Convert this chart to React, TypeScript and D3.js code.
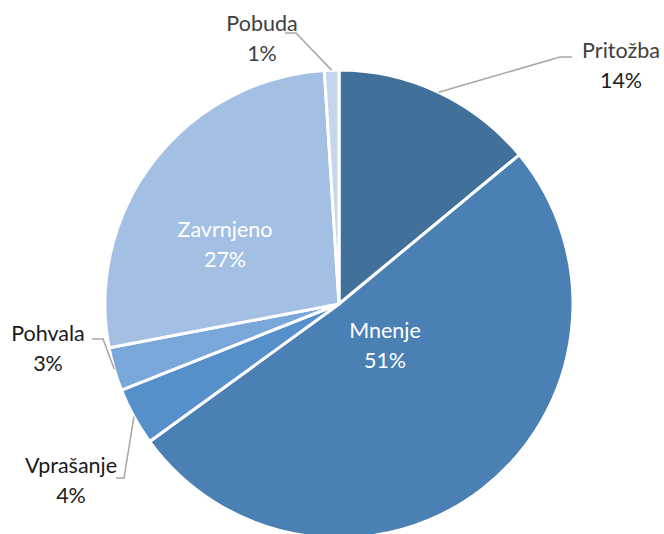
import React, { useEffect, useRef } from "react";
import * as d3 from "d3";

const categories = ["Pritožba", "Mnenje", "Vprašanje", "Pohvala", "Zavrnjeno", "Pobuda"];
const values = [14, 51, 4, 3, 27, 1];
const percentLabels = ["14%", "51%", "4%", "3%", "27%", "1%"];
const colors = ["#41709b", "#4a80b4", "#5590cb", "#7aa7d9", "#a3bfe3", "#c4d6ee"];

// label layout: text centre, optional leader elbow points (layout only)
const labelLayout: Record<string, any> = {
  "Pritožba": { x: 621, y: 50, fill: "#404040", pctFill: "#1a1a1a", leader: [[560, 57], [572, 57]] },
  "Mnenje": { x: 385, y: 330, fill: "#ffffff", pctFill: "#ffffff", leader: null },
  "Vprašanje": { x: 71, y: 465, fill: "#1a1a1a", pctFill: "#1a1a1a", leader: [[124, 478], [116, 478]] },
  "Pohvala": { x: 48, y: 333, fill: "#1a1a1a", pctFill: "#1a1a1a", leader: [[103, 339], [92, 339]] },
  "Zavrnjeno": { x: 225, y: 229, fill: "#ffffff", pctFill: "#ffffff", leader: null },
  "Pobuda": { x: 262, y: 23, fill: "#404040", pctFill: "#404040", leader: [[296, 33], [285, 33]] },
};

const App = () => {
  const ref = useRef<SVGSVGElement>(null);

  useEffect(() => {
    const width = 664;
    const height = 534;
    const cx = 339;
    const cy = 304;
    const radius = 234;

    const svg = d3.select(ref.current);
    svg.selectAll("*").remove();
    svg.attr("width", width).attr("height", height);

    const data = categories.map((c, i) => ({ name: c, value: values[i], pct: percentLabels[i], color: colors[i] }));

    const pie = d3.pie<any>().sort(null).value((d) => d.value);
    const arc = d3.arc<any>().innerRadius(0).outerRadius(radius);
    const arcs = pie(data);

    const g = svg.append("g").attr("transform", `translate(${cx},${cy})`);

    g.selectAll("path")
      .data(arcs)
      .enter()
      .append("path")
      .attr("d", arc)
      .attr("fill", (d) => d.data.color)
      .attr("stroke", "#ffffff")
      .attr("stroke-width", 3)
      .attr("stroke-linejoin", "round");

    // leader lines
    arcs.forEach((a) => {
      const lay = labelLayout[a.data.name];
      if (!lay.leader) return;
      const mid = (a.startAngle + a.endAngle) / 2;
      const px = cx + radius * Math.sin(mid);
      const py = cy - radius * Math.cos(mid);
      const pts = [[px, py], ...lay.leader];
      svg.append("path")
        .attr("d", d3.line()(pts as [number, number][]))
        .attr("fill", "none")
        .attr("stroke", "#a6a6a6")
        .attr("stroke-width", 1.5);
    });

    // labels
    arcs.forEach((a) => {
      const lay = labelLayout[a.data.name];
      const t = svg.append("text")
        .attr("text-anchor", "middle")
        .attr("font-family", "Lato, 'Open Sans', sans-serif")
        .attr("font-size", 21.5);
      t.append("tspan")
        .attr("x", lay.x)
        .attr("y", lay.y)
        .attr("dy", "0.35em")
        .attr("fill", lay.fill)
        .text(a.data.name);
      t.append("tspan")
        .attr("x", lay.x)
        .attr("y", lay.y + 30)
        .attr("dy", "0.35em")
        .attr("fill", lay.pctFill)
        .text(a.data.pct);
    });
  }, []);

  return (
    <svg
      ref={ref}
      style={{ position: "absolute", left: 0, top: 0, background: "#ffffff" }}
    />
  );
};

export default App;
